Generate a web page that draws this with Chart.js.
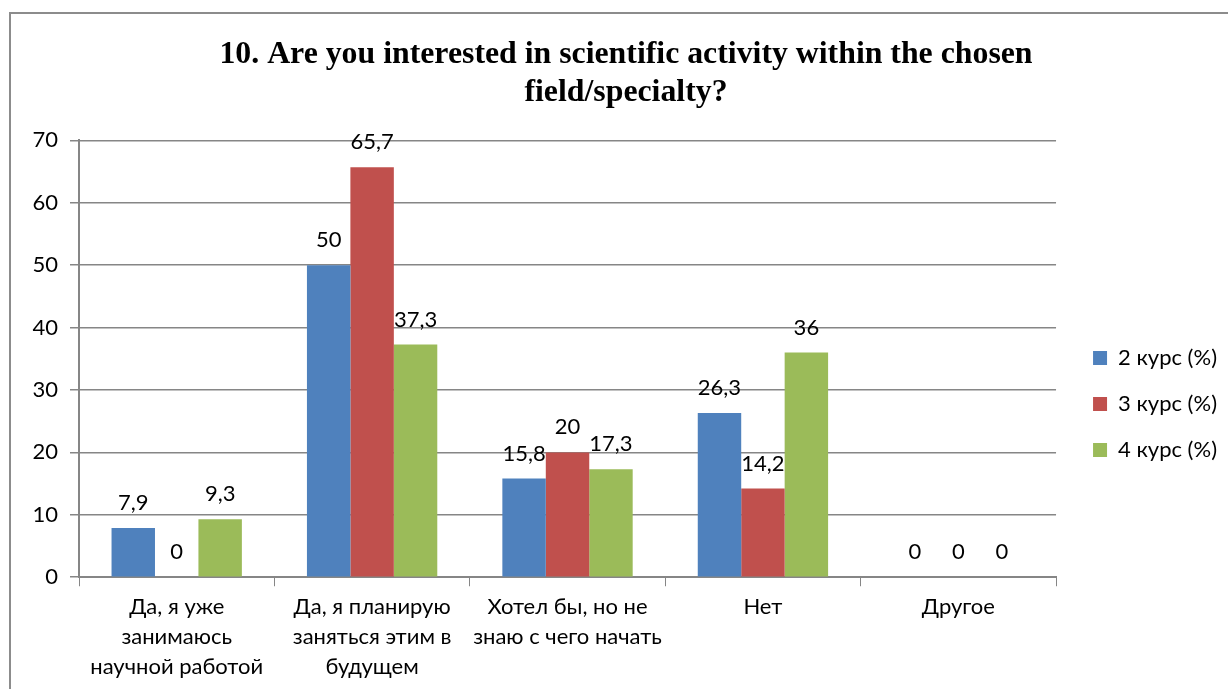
<!DOCTYPE html>
<html><head><meta charset="utf-8">
<script src="https://cdn.jsdelivr.net/npm/chart.js@4/dist/chart.umd.min.js"></script>
<style>
html,body{margin:0;padding:0;background:#fff;overflow:hidden}
#wrap{position:relative;width:1228px;height:689px}
#frame{position:absolute;left:9px;top:12px;width:1400px;height:900px;border-left:2px solid #8c8c8c;border-top:2px solid #8c8c8c;box-sizing:border-box;pointer-events:none}
canvas{position:absolute;left:0;top:0}
</style></head>
<body><div id="wrap"><canvas id="c" width="1228" height="689"></canvas><div id="frame"></div></div>
<script>
const titleLines = ["10. Are you interested in scientific activity within the chosen", "field/specialty?"];
const categories = [
  ["Да, я уже", "занимаюсь", "научной работой"],
  ["Да, я планирую", "заняться этим в", "будущем"],
  ["Хотел бы, но не", "знаю с чего начать"],
  ["Нет"],
  ["Другое"]
];
const seriesNames = ["2 курс (%)", "3 курс (%)", "4 курс (%)"];
const course2 = [7.9, 50, 15.8, 26.3, 0];
const course3 = [0, 65.7, 20, 14.2, 0];
const course4 = [9.3, 37.3, 17.3, 36, 0];
const yTicks = [0, 10, 20, 30, 40, 50, 60, 70];
const colors = ["#4F81BD", "#C0504D", "#9BBB59"];

const FONT = "Lato";
const FS = 22;
const valueLabels = {
  id: 'valueLabels',
  afterDatasetsDraw(chart) {
    const ctx = chart.ctx;
    ctx.save();
    ctx.font = FS + "px " + FONT;
    ctx.fillStyle = "#000";
    ctx.textAlign = "center";
    ctx.textBaseline = "bottom";
    chart.data.datasets.forEach((ds, i) => {
      const meta = chart.getDatasetMeta(i);
      meta.data.forEach((el, j) => {
        const v = ds.data[j];
        ctx.fillText(String(v).replace('.', ','), el.x, el.y - 14);
      });
    });
    ctx.restore();
  }
};

const chart = new Chart(document.getElementById('c'), {
  type: 'bar',
  data: {
    labels: categories,
    datasets: [course2, course3, course4].map((d, i) => ({
      label: seriesNames[i],
      data: d,
      backgroundColor: colors[i],
      borderWidth: 0,
      barPercentage: 1,
      categoryPercentage: 0.667
    }))
  },
  options: {
    responsive: false,
    animation: false,
    devicePixelRatio: 1,
    layout: { padding: { left: 24, right: 14, top: 0, bottom: 1 } },
    plugins: {
      tooltip: { enabled: false },
      title: {
        display: true,
        text: titleLines,
        color: "#000",
        font: { family: "Liberation Serif", size: 31.8, weight: "bold", lineHeight: 1.2 },
        padding: { top: 36, bottom: 28 }
      },
      legend: {
        position: 'right',
        title: { display: true, text: ' ', font: { size: 10, lineHeight: 1 }, padding: { top: 0, bottom: 110 } },
        labels: {
          color: "#000",
          font: { family: FONT, size: FS },
          boxWidth: 14, boxHeight: 14,
          padding: 24
        }
      }
    },
    scales: {
      x: {
        grid: { display: true, drawOnChartArea: false, color: "#868686", tickLength: 9, offset: true },
        border: { color: "#868686", width: 2 },
        ticks: { color: "#000", font: { family: FONT, size: FS, lineHeight: 1.36 }, padding: 6, maxRotation: 0, autoSkip: false }
      },
      y: {
        min: 0, max: 70,
        afterBuildTicks(scale) { scale.ticks = yTicks.map(v => ({ value: v })); },
        afterFit(scale) { scale.width = 55; },
        grid: { color: "#868686", lineWidth: 1.5, tickLength: 9 },
        border: { color: "#868686", width: 2 },
        ticks: { color: "#000", font: { family: FONT, size: FS }, padding: 12 }
      }
    }
  },
  plugins: [valueLabels]
});
// nudge legend items and title horizontally within their boxes
function shiftDraw(box, dx) {
  const orig = box.draw;
  box.draw = function () {
    const ctx = this.ctx;
    ctx.save();
    ctx.translate(dx, 0);
    orig.apply(this, arguments);
    ctx.restore();
  };
}
shiftDraw(chart.legend, 13);
shiftDraw(chart.titleBlock, 7);
chart.draw();
</script></body></html>
